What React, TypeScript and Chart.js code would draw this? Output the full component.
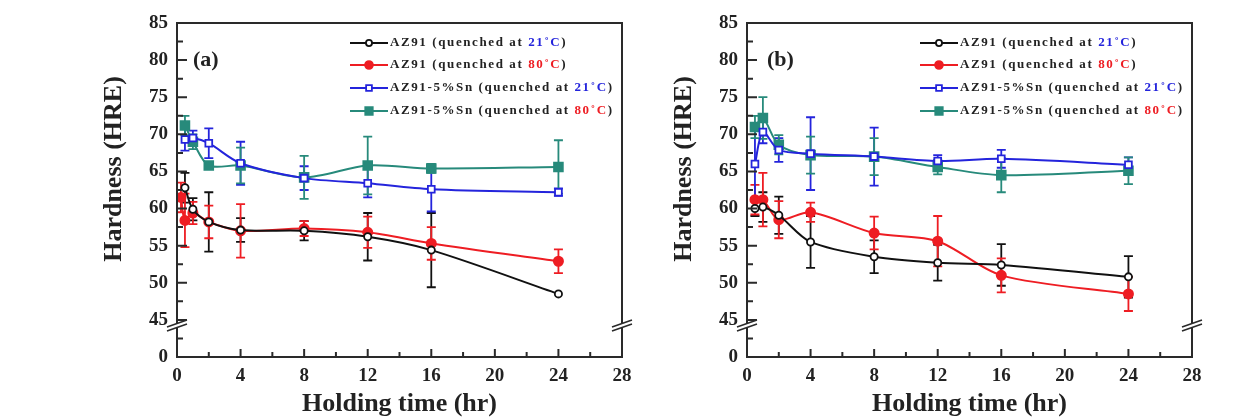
import { useEffect, useRef } from "react";
import { Chart, registerables } from "chart.js";

Chart.register(...registerables);

// Holding times (hr) at which hardness was measured
const hours = [0.5, 1, 2, 4, 8, 12, 16, 24];
const hoursRedA = [0.25, 0.5, 1, 2, 4, 8, 12, 16, 24];

// Axis ticks
const xMajorTicks = [0, 4, 8, 12, 16, 20, 24, 28];
const yMajorTicks = [40, 45, 50, 55, 60, 65, 70, 75, 80, 85];
const yBreakValue = 44.5;
const yLowestLabel = "0";

// Panel (a)
const az91At21A = [62.8, 59.9, 58.2, 57.1, 57.0, 56.2, 54.4, 48.5];
const az91At21ErrA = [2.0, 1.5, 4.0, 1.6, 1.3, 3.2, 5.0, 0];
const az91At80A = [61.5, 58.4, 59.4, 58.2, 57.0, 57.3, 56.8, 55.3, 52.9];
const az91At80ErrA = [2.0, 3.6, 1.5, 2.2, 3.6, 1.0, 2.1, 2.2, 1.6];
const snAt21A = [69.3, 69.5, 68.8, 66.1, 64.1, 63.4, 62.6, 62.2];
const snAt21ErrA = [1.5, 1.0, 2.0, 2.9, 1.6, 1.9, 3.0, 0.5];
const snAt80A = [71.2, 69.0, 65.8, 65.8, 64.2, 65.8, 65.4, 65.6];
const snAt80ErrA = [1.3, 1.0, 0.3, 2.4, 2.9, 3.9, 0.6, 3.6];

// Panel (b)
const az91At21B = [60.0, 60.2, 59.1, 55.5, 53.5, 52.7, 52.4, 50.8];
const az91At21ErrB = [1.0, 2.0, 2.5, 3.5, 2.2, 2.4, 2.8, 2.8];
const az91At80B = [61.2, 61.2, 58.5, 59.5, 56.7, 55.6, 51.0, 48.5];
const az91At80ErrB = [2.0, 3.6, 2.5, 1.3, 2.2, 3.4, 2.3, 2.3];
const snAt21B = [66.0, 70.3, 67.9, 67.4, 67.0, 66.4, 66.7, 65.9];
const snAt21ErrB = [4.8, 1.5, 1.6, 4.9, 3.9, 0.8, 1.2, 1.0];
const snAt80B = [71.0, 72.2, 68.6, 67.2, 67.0, 65.6, 64.5, 65.1];
const snAt80ErrB = [1.5, 2.8, 1.3, 2.5, 2.5, 1.0, 2.3, 1.8];

// Legend text pieces
const legendAlloys = ["AZ91", "AZ91", "AZ91-5%Sn", "AZ91-5%Sn"];
const legendTemps = ["21\u02DAC", "80\u02DAC", "21\u02DAC", "80\u02DAC"];

const FONT = '"Liberation Serif", "Times New Roman", serif';
const INK = "#222";
const BLACK = "#111";
const RED = "#ee1d23";
const BLUE = "#2424dc";
const TEAL = "#278a7b";

type SeriesStyle = { color: string; pointStyle: "circle" | "rect"; filled: boolean; radius: number };
const seriesStyles: SeriesStyle[] = [
  { color: BLACK, pointStyle: "circle", filled: false, radius: 3.6 },
  { color: RED, pointStyle: "circle", filled: true, radius: 4.6 },
  { color: BLUE, pointStyle: "rect", filled: false, radius: 4.8 },
  { color: TEAL, pointStyle: "rect", filled: true, radius: 6.2 },
];
const tempColors = [BLUE, RED, BLUE, RED];

function drawMarker(ctx: CanvasRenderingContext2D, x: number, y: number, s: SeriesStyle) {
  ctx.save();
  ctx.lineWidth = 1.8;
  ctx.strokeStyle = s.color;
  ctx.fillStyle = s.filled ? s.color : "#fff";
  ctx.beginPath();
  if (s.pointStyle === "circle") {
    ctx.arc(x, y, s.radius, 0, Math.PI * 2);
  } else {
    const h = s.radius * Math.SQRT1_2;
    ctx.rect(x - h, y - h, 2 * h, 2 * h);
  }
  ctx.fill();
  ctx.stroke();
  ctx.restore();
}

const decorPlugin = {
  id: "panelDecor",
  beforeDatasetsDraw(chart: any) {
    const { ctx } = chart;
    const xs = chart.scales.x;
    const ys = chart.scales.y;
    chart.data.datasets.forEach((ds: any) => {
      const errs: number[] = ds.errors;
      if (!errs) return;
      ctx.save();
      ctx.strokeStyle = ds.borderColor;
      ctx.lineWidth = 1.8;
      ds.data.forEach((p: { x: number; y: number }, j: number) => {
        const e = errs[j];
        if (!e) return;
        const px = xs.getPixelForValue(p.x);
        const top = ys.getPixelForValue(p.y + e);
        const bot = ys.getPixelForValue(p.y - e);
        ctx.beginPath();
        ctx.moveTo(px, top);
        ctx.lineTo(px, bot);
        ctx.moveTo(px - 4.5, top);
        ctx.lineTo(px + 4.5, top);
        ctx.moveTo(px - 4.5, bot);
        ctx.lineTo(px + 4.5, bot);
        ctx.stroke();
      });
      ctx.restore();
    });
  },
  afterDraw(chart: any) {
    const { ctx, chartArea } = chart;
    const { left, right, top, bottom } = chartArea;
    const xs = chart.scales.x;
    const ys = chart.scales.y;
    const opts = chart.options.plugins.panelDecor;

    ctx.save();
    // frame
    ctx.strokeStyle = "#2a2a2a";
    ctx.lineWidth = 2;
    ctx.strokeRect(left, top, right - left, bottom - top);

    // inward ticks on the left axis
    ctx.beginPath();
    for (const v of yMajorTicks) {
      const y = ys.getPixelForValue(v);
      ctx.moveTo(left, y);
      ctx.lineTo(left + 10, y);
    }
    for (let i = 0; i < yMajorTicks.length - 1; i++) {
      const y = ys.getPixelForValue((yMajorTicks[i] + yMajorTicks[i + 1]) / 2);
      ctx.moveTo(left, y);
      ctx.lineTo(left + 6, y);
    }
    // inward ticks on the bottom axis
    for (const v of xMajorTicks) {
      const x = xs.getPixelForValue(v);
      ctx.moveTo(x, bottom);
      ctx.lineTo(x, bottom - 8);
    }
    for (let i = 0; i < xMajorTicks.length - 1; i++) {
      const x = xs.getPixelForValue((xMajorTicks[i] + xMajorTicks[i + 1]) / 2);
      ctx.moveTo(x, bottom);
      ctx.lineTo(x, bottom - 5);
    }
    ctx.stroke();

    // axis breaks
    const by = ys.getPixelForValue(yBreakValue);
    for (const ax of [left, right]) {
      ctx.fillStyle = "#fff";
      ctx.beginPath();
      ctx.moveTo(ax - 10, by + 3.5);
      ctx.lineTo(ax + 10, by - 3.5);
      ctx.lineTo(ax + 10, by + 0.5);
      ctx.lineTo(ax - 10, by + 7.5);
      ctx.closePath();
      ctx.fill();
      ctx.lineWidth = 1.6;
      ctx.beginPath();
      ctx.moveTo(ax - 10, by + 3.5);
      ctx.lineTo(ax + 10, by - 3.5);
      ctx.moveTo(ax - 10, by + 7.5);
      ctx.lineTo(ax + 10, by + 0.5);
      ctx.stroke();
    }

    // axis titles
    ctx.fillStyle = INK;
    ctx.font = `bold 26px ${FONT}`;
    ctx.textAlign = "center";
    ctx.textBaseline = "middle";
    ctx.fillText("Holding time (hr)", (left + right) / 2, 404);
    ctx.save();
    ctx.translate(left - 63, 169);
    ctx.rotate(-Math.PI / 2);
    ctx.fillText("Hardness (HRE)", 0, 0);
    ctx.restore();

    // panel label
    ctx.font = `bold 22px ${FONT}`;
    ctx.textAlign = "left";
    ctx.fillText(opts.label, left + opts.labelDx, 60);

    // legend
    ctx.font = `bold 13px ${FONT}`;
    (ctx as any).letterSpacing = "1.6px";
    const rowY = [20, 42, 65, 88];
    for (let i = 0; i < 4; i++) {
      const y = top + rowY[i];
      const sx = left + 173;
      const s = seriesStyles[i];
      ctx.strokeStyle = s.color;
      ctx.lineWidth = 2;
      ctx.beginPath();
      ctx.moveTo(sx, y);
      ctx.lineTo(sx + 38, y);
      ctx.stroke();
      drawMarker(ctx, sx + 19, y, { ...s, radius: s.radius * 0.85 });
      let tx = left + 213;
      const parts: [string, string][] = [
        [`${legendAlloys[i]} (quenched at `, INK],
        [legendTemps[i], tempColors[i]],
        [")", INK],
      ];
      for (const [t, c] of parts) {
        ctx.fillStyle = c;
        ctx.fillText(t, tx, y);
        tx += ctx.measureText(t).width;
      }
    }
    (ctx as any).letterSpacing = "0px";
    ctx.restore();
  },
};

type PanelProps = {
  left: number;
  width: number;
  axisWidth: number;
  padRight: number;
  label: string;
  labelDx: number;
  series: { xs: number[]; ys: number[]; errs: number[] }[];
};

function Panel({ left, width, axisWidth, padRight, label, labelDx, series }: PanelProps) {
  const ref = useRef<HTMLCanvasElement>(null);
  useEffect(() => {
    const datasets = series.map((s, i) => {
      const st = seriesStyles[i];
      return {
        data: s.xs.map((x, j) => ({ x, y: s.ys[j] })),
        errors: s.errs,
        borderColor: st.color,
        backgroundColor: st.color,
        borderWidth: 2,
        pointStyle: st.pointStyle,
        pointRadius: st.radius,
        pointBorderWidth: 1.8,
        pointBackgroundColor: st.filled ? st.color : "#fff",
        pointBorderColor: st.color,
        tension: 0.3,
        fill: false,
      };
    });
    const chart = new Chart(ref.current!, {
      type: "line",
      data: { datasets } as any,
      options: {
        animation: false,
        responsive: false,
        devicePixelRatio: 1,
        layout: { padding: { left: 0, right: padRight, top: 23, bottom: 0 } },
        plugins: {
          legend: { display: false },
          tooltip: { enabled: false },
          panelDecor: { label, labelDx },
        } as any,
        scales: {
          x: {
            type: "linear",
            min: 0,
            max: 28,
            afterFit: (sc: any) => {
              sc.height = 63;
            },
            grid: { display: false, drawTicks: false },
            border: { display: false },
            ticks: {
              stepSize: 4,
              padding: 8,
              color: INK,
              font: { family: FONT, size: 19, weight: "bold" },
            },
          },
          y: {
            type: "linear",
            min: 40,
            max: 85,
            afterFit: (sc: any) => {
              sc.width = axisWidth;
            },
            grid: { display: false, drawTicks: false },
            border: { display: false },
            ticks: {
              stepSize: 5,
              padding: 9,
              color: INK,
              font: { family: FONT, size: 19, weight: "bold" },
              callback: (v: any) => (v === 40 ? yLowestLabel : String(v)),
            },
          },
        },
      },
      plugins: [decorPlugin],
    });
    return () => chart.destroy();
  }, []);
  return (
    <canvas
      ref={ref}
      width={width}
      height={420}
      style={{ position: "absolute", left, top: 0, width, height: 420 }}
    />
  );
}

export default function App() {
  const seriesA = [
    { xs: hours, ys: az91At21A, errs: az91At21ErrA },
    { xs: hoursRedA, ys: az91At80A, errs: az91At80ErrA },
    { xs: hours, ys: snAt21A, errs: snAt21ErrA },
    { xs: hours, ys: snAt80A, errs: snAt80ErrA },
  ];
  const seriesB = [
    { xs: hours, ys: az91At21B, errs: az91At21ErrB },
    { xs: hours, ys: az91At80B, errs: az91At80ErrB },
    { xs: hours, ys: snAt21B, errs: snAt21ErrB },
    { xs: hours, ys: snAt80B, errs: snAt80ErrB },
  ];
  return (
    <div style={{ position: "absolute", left: 0, top: 0, width: 1247, height: 420, background: "#fff" }}>
      <Panel left={0} width={640} axisWidth={177} padRight={18} label="(a)" labelDx={16} series={seriesA} />
      <Panel left={620} width={627} axisWidth={127} padRight={55} label="(b)" labelDx={20} series={seriesB} />
    </div>
  );
}
